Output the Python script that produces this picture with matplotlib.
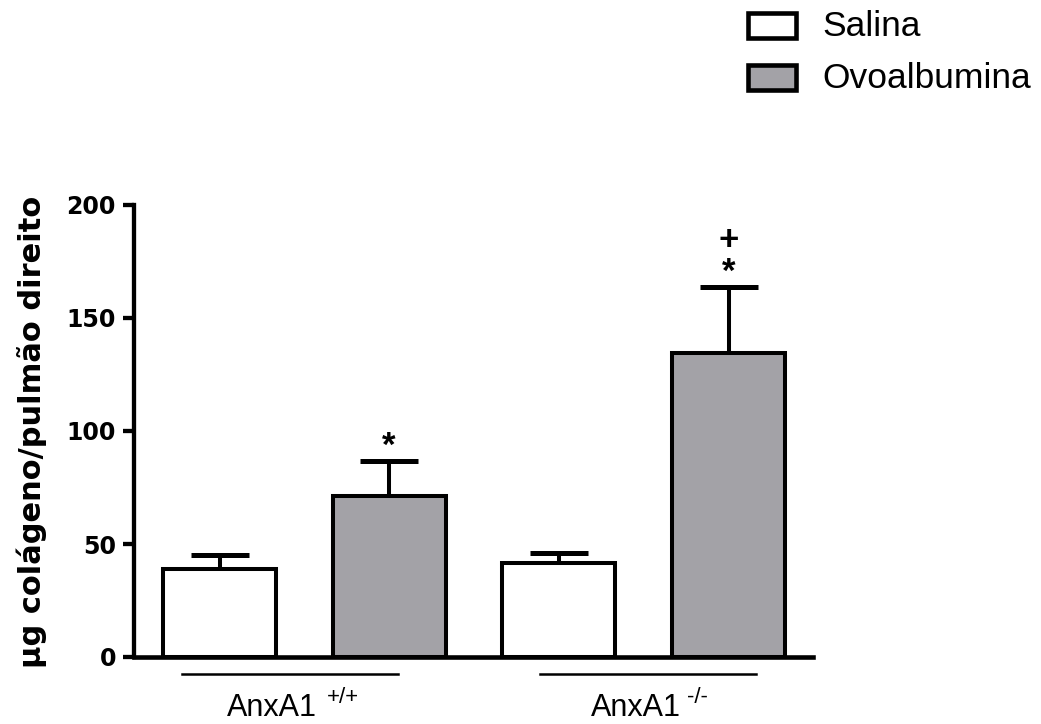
import matplotlib
matplotlib.use("Agg")
import matplotlib.pyplot as plt
import matplotlib.transforms as mtransforms
from matplotlib.patches import Rectangle
import numpy as np

groups = ["AnxA1", "AnxA1"]
group_sup = ["+/+", "-/-"]
treatments = ["Salina", "Ovoalbumina"]
means_salina = [38.9, 41.6]
means_ova = [71.2, 134.5]
sem_salina = [6.2, 4.4]
sem_ova = [15.5, 29.2]
marks_ova = ["*", "+\n*"]
yticks = [0, 50, 100, 150, 200]
ylabel = "µg colágeno/pulmão direito"

W, H = 1041, 724
fig = plt.figure(figsize=(W / 100, H / 100), dpi=100)
ax = fig.add_axes([134 / W, 1 - 657 / H, (813 - 134) / W, (657 - 205) / H])

colors = ["white", "#a3a2a7"]
width = 0.665
x = np.arange(4)
means = [means_salina[0], means_ova[0], means_salina[1], means_ova[1]]
sems = [sem_salina[0], sem_ova[0], sem_salina[1], sem_ova[1]]
fc = [colors[0], colors[1], colors[0], colors[1]]
ax.bar(x, means, width=width, color=fc, edgecolor="black", linewidth=2.9, zorder=3)
ax.errorbar(x, means, yerr=[np.zeros(4), sems], fmt="none", ecolor="black",
            elinewidth=2.9, capsize=20.9, capthick=3.6, zorder=2)

ax.set_xlim(-0.504, 3.498)
ax.set_ylim(0, 200)
ax.set_yticks(yticks)
ax.set_yticklabels([str(t) for t in yticks], fontfamily="DejaVu Sans",
                   fontweight="bold", fontsize=17)
ax.tick_params(axis="y", length=8, width=3.1, pad=5)
ax.set_xticks([])
for s in ["top", "right"]:
    ax.spines[s].set_visible(False)
ax.spines["left"].set_linewidth(3.1)
ax.spines["bottom"].set_linewidth(3.3)

# significance marks (above the error bar)
for i, m in enumerate(marks_ova):
    xi = 2 * i + 1
    top = means_ova[i] + sem_ova[i]
    ax.text(xi, top + 2.5, m, ha="center", va="baseline",
            fontfamily="Liberation Sans", fontweight="bold",
            fontsize=25, linespacing=0.95)

# group underlines and labels
trans = mtransforms.blended_transform_factory(ax.transData, ax.transAxes)
sp = 169.7
def px2d(px):
    return (px - 219.5) / sp
spans = [(182, 398), (540, 756)]
for (a, b) in spans:
    y = (657 - 674) / 452
    ax.plot([px2d(a), px2d(b)], [y, y], color="black", lw=1.8,
            transform=trans, clip_on=False)
lab_left = [227, 591]
sup_left = [327, 687]
for i in range(2):
    ax.text(px2d(lab_left[i]), (657 - 716) / 452, groups[i], transform=trans,
            ha="left", va="baseline", fontfamily="Liberation Sans", fontsize=22)
    ax.text(px2d(sup_left[i]), (657 - 703) / 452, group_sup[i], transform=trans,
            ha="left", va="baseline", fontfamily="Liberation Sans", fontsize=16)

fig.text(32 / W, 1 - 432 / H, ylabel, rotation=90, ha="center", va="center",
         fontfamily="DejaVu Sans", fontweight="bold", fontsize=22)

# legend
box_top = [13, 65]
for i, t in enumerate(treatments):
    fig.patches.append(Rectangle((748 / W, 1 - (box_top[i] + 25) / H), 48 / W, 25 / H,
                                 transform=fig.transFigure, facecolor=colors[i],
                                 edgecolor="black", linewidth=3.3))
    fig.text(822 / W, 1 - (box_top[i] + 13) / H, t, ha="left", va="center",
             fontfamily="Liberation Sans", fontsize=25.5)

fig.savefig("out.png", dpi=100)
